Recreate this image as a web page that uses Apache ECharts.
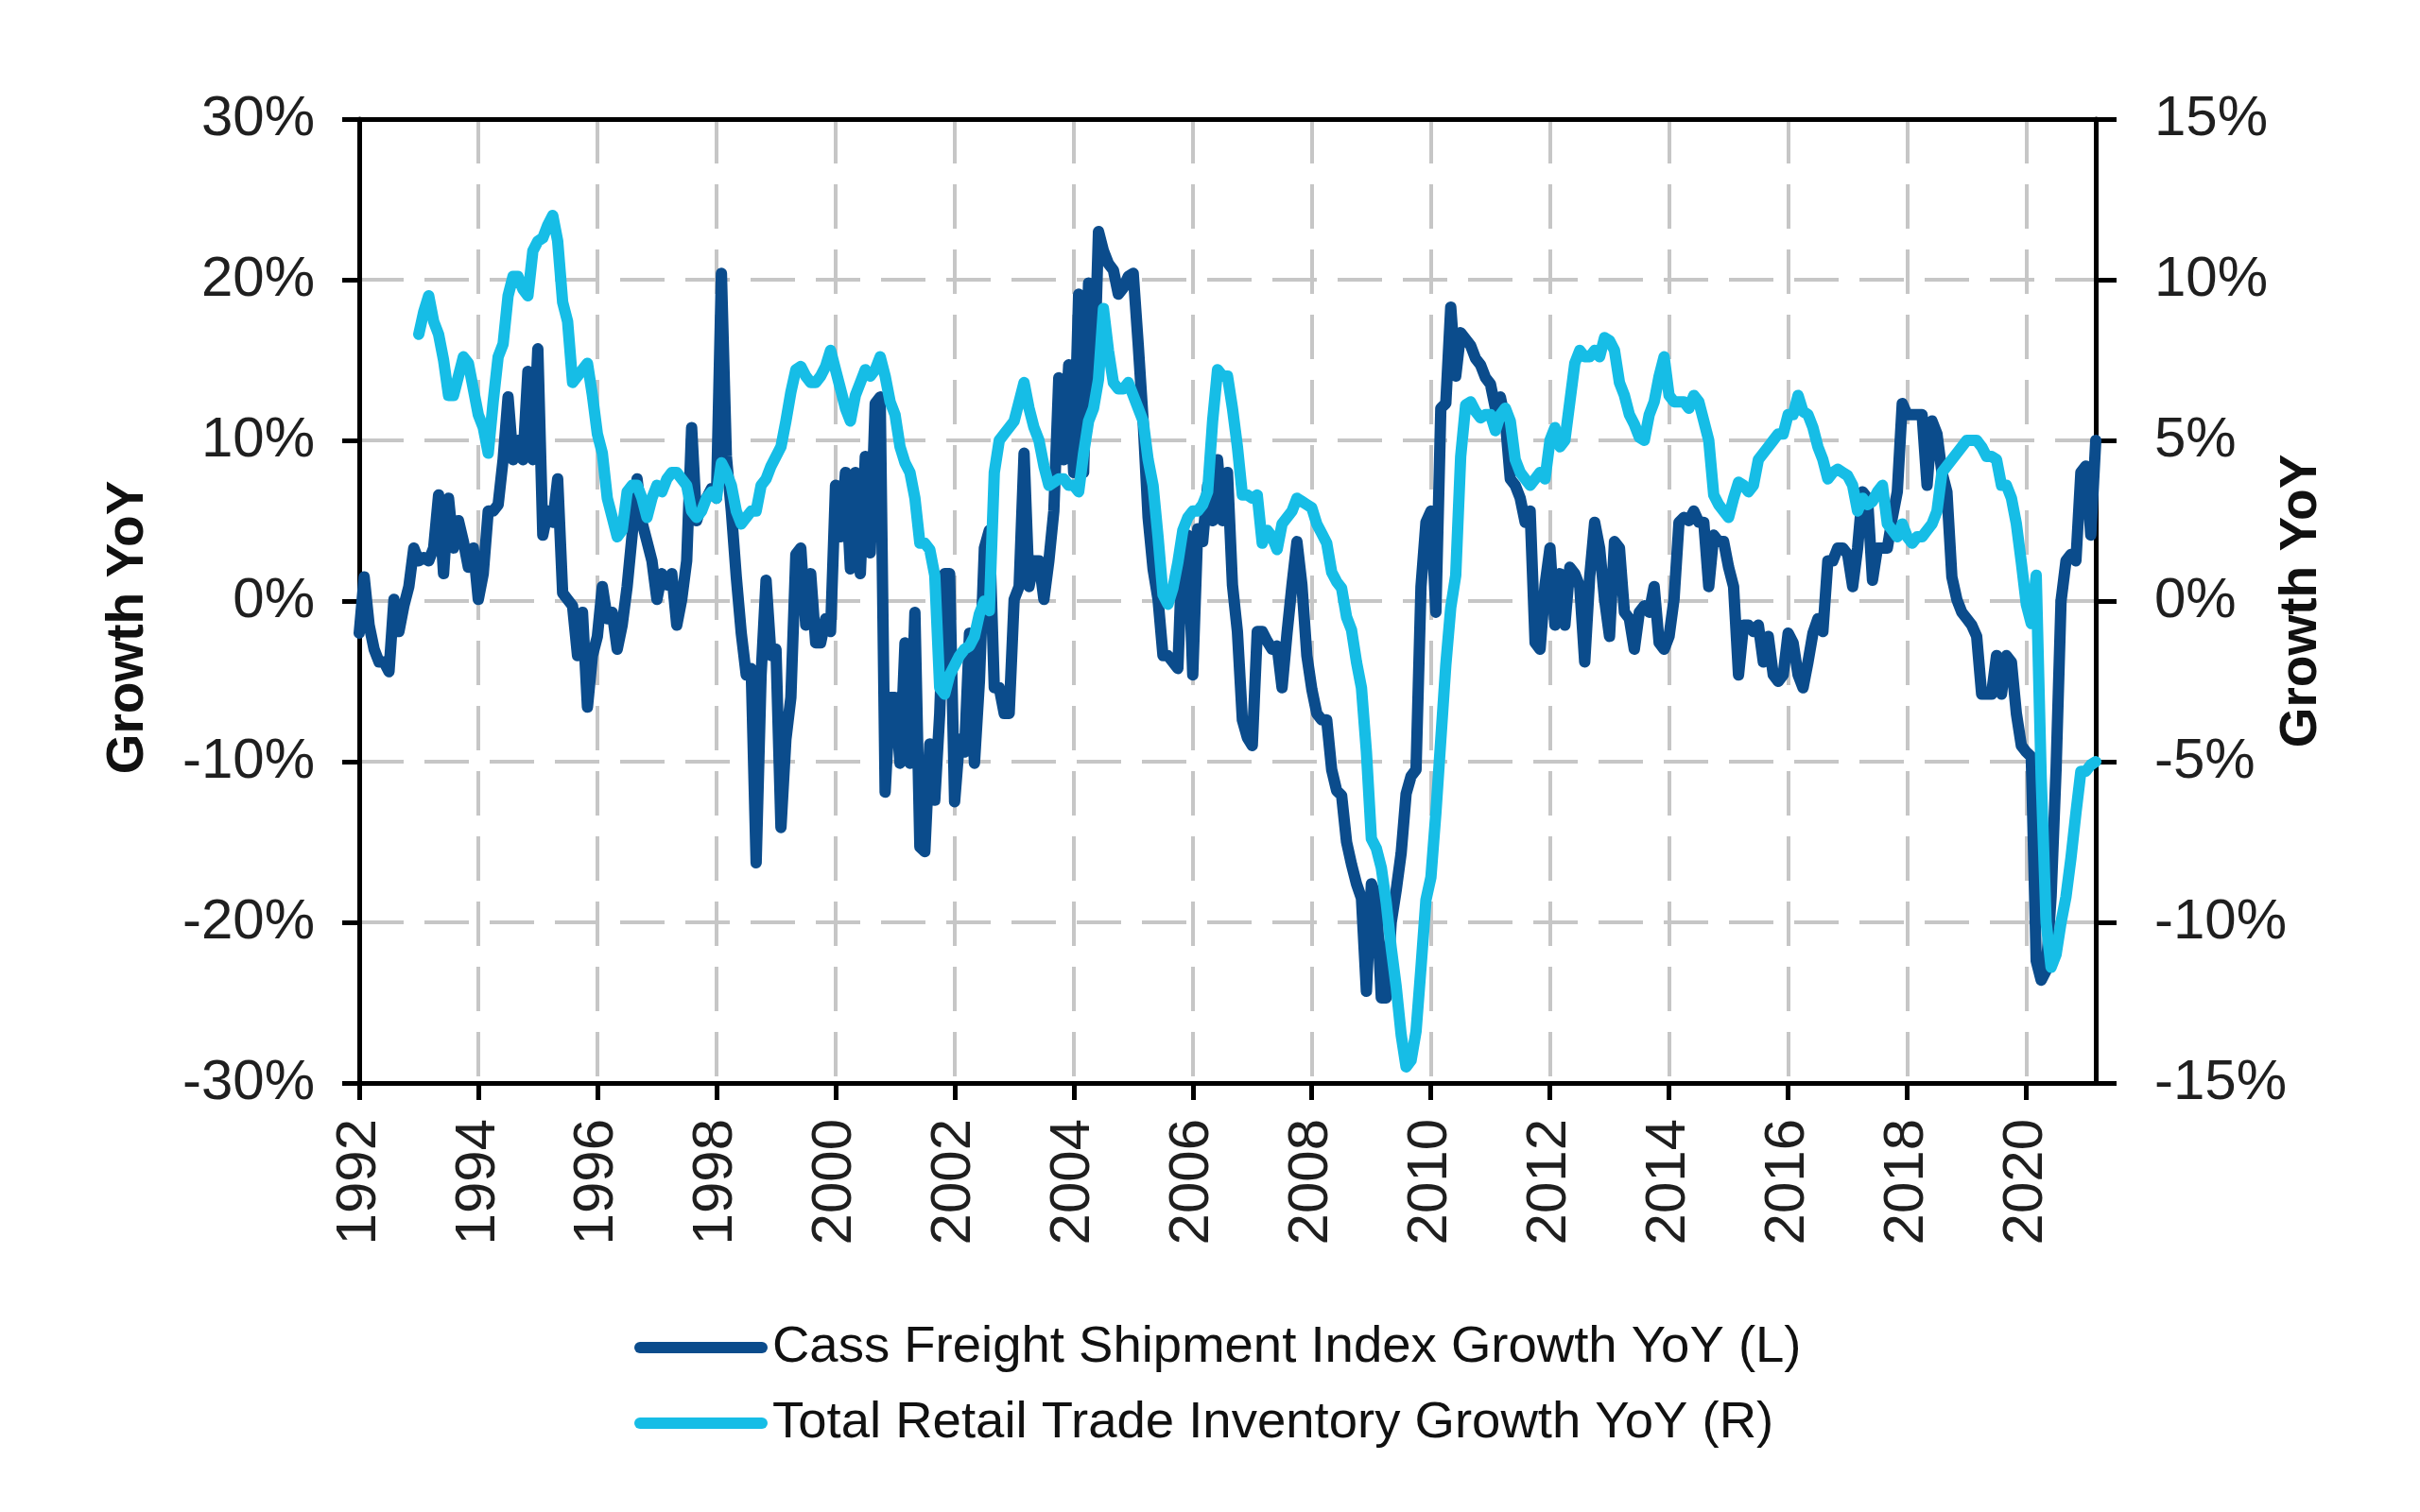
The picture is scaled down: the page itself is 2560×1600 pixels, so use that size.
<!DOCTYPE html>
<html>
<head>
<meta charset="utf-8">
<script src="https://cdn.jsdelivr.net/npm/echarts@6/dist/echarts.min.js"></script>
<style>
  html, body { margin: 0; padding: 0; background: #ffffff; }
  #chart { width: 2560px; height: 1600px; }
</style>
</head>
<body>
<div id="chart"></div>
<script>
// Monthly data, Jan 1992 .. Mar 2021 (YoY growth, %)
const startYear = 1992;
const seriesNames = [
  'Cass Freight Shipment Index Growth YoY (L)',
  'Total Retail Trade Inventory Growth YoY (R)'
];
const cassFreight = [
  -2.0, 1.5, -1.5, -3.0, -3.8, -3.8, -4.4, 0.1, -1.9, -0.3, 0.9, 3.3,
  2.5, 2.7, 2.5, 3.3, 6.6, 1.7, 6.4, 3.3, 5.0, 3.7, 2.1, 3.3,
  0.1, 1.7, 5.6, 5.6, 6.0, 8.8, 12.7, 8.8, 10.0, 8.8, 14.3, 8.8,
  15.7, 4.1, 5.6, 4.9, 7.6, 0.5, 0.1, -0.3, -3.4, -0.7, -6.6, -3.4,
  -2.2, 0.9, -1.1, -0.7, -3.0, -1.5, 0.9, 4.1, 7.6, 4.9, 3.7, 2.5,
  0.1, 1.7, 1.0, 1.7, -1.5, 0.1, 2.5, 10.8, 5.0, 6.0, 6.4, 7.0,
  6.4, 20.4, 9.0, 5.6, 1.5, -2.0, -4.6, -4.2, -16.3, -4.6, 1.3, -3.4,
  -3.0, -14.1, -8.6, -6.0, 2.9, 3.3, -1.5, 1.7, -2.6, -2.6, -1.1, -1.9,
  7.2, 4.0, 8.0, 2.0, 8.0, 1.7, 9.0, 3.0, 12.3, 12.7, -11.9, -6.0,
  -6.0, -10.1, -2.6, -10.1, -0.7, -15.3, -15.6, -8.9, -12.4, -7.0, 1.7, 1.7,
  -12.5, -8.6, -9.4, -2.0, -10.1, -5.0, 3.3, 4.4, -5.4, -5.4, -7.0, -7.0,
  0.1, 0.9, 9.2, 0.9, 2.5, 2.5, 0.1, 2.5, 5.6, 13.9, 8.8, 14.7,
  8.0, 19.1, 8.0, 19.8, 12.7, 23.0, 21.8, 21.0, 20.6, 19.1, 19.5, 20.2,
  20.4, 16.0, 11.2, 5.2, 2.0, 0.1, -3.4, -3.4, -3.8, -4.2, 4.1, 4.1,
  -4.6, 4.5, 3.7, 7.2, 5.0, 8.8, 5.0, 8.0, 1.0, -1.9, -7.4, -8.5,
  -9.0, -1.9, -1.9, -2.5, -3.0, -2.8, -5.4, -2.0, 1.0, 3.7, 1.0, -3.4,
  -5.5, -7.0, -7.4, -7.4, -10.5, -11.8, -12.1, -15.0, -16.4, -17.6, -18.5, -24.3,
  -17.6, -18.4, -24.7, -24.7, -20.0, -18.0, -15.7, -12.0, -10.9, -10.5, 0.9, 4.9,
  5.6, -0.7, 12.0, 12.3, 18.3, 14.0, 16.7, 16.3, 15.9, 15.1, 14.7, 13.9,
  13.5, 12.0, 12.7, 11.2, 7.6, 7.2, 6.4, 4.9, 5.6, -2.6, -3.0, 1.0,
  3.3, -1.5, 1.7, -1.5, 2.1, 1.7, 0.9, -3.8, 1.5, 4.9, 3.3, 0.1,
  -2.2, 3.7, 3.3, -0.7, -1.1, -3.0, -0.7, -0.3, -0.7, 0.9, -2.6, -3.0,
  -2.2, 0.1, 4.9, 5.2, 5.0, 5.6, 4.9, 4.9, 0.9, 4.1, 3.7, 3.7,
  2.1, 0.9, -4.6, -1.5, -1.5, -1.9, -1.5, -3.8, -2.2, -4.6, -5.0, -4.6,
  -2.0, -2.6, -4.6, -5.4, -3.8, -2.0, -1.1, -1.9, 2.5, 2.5, 3.3, 3.3,
  2.9, 0.9, 3.3, 6.8, 6.4, 1.3, 3.3, 3.3, 3.3, 5.2, 6.8, 12.3,
  11.6, 11.6, 11.6, 11.6, 7.2, 11.2, 10.4, 8.0, 6.8, 1.5, 0.1, -0.7,
  -1.1, -1.5, -2.2, -5.8, -5.8, -5.8, -3.4, -5.8, -3.4, -3.8, -7.0, -9.0,
  -9.4, -9.7, -22.4, -23.6, -23.0, -18.4, -10.5, 0.0, 2.5, 2.9, 2.5, 8.0,
  8.4, 4.1, 10.0
];
const retailInventory = [
  null, null, null, null, null, null, null, null, null, null, null, null,
  8.3, 9.0, 9.5, 8.7, 8.3, 7.5, 6.4, 6.4, 7.0, 7.6, 7.4, 6.6,
  5.8, 5.4, 4.6, 6.2, 7.6, 8.0, 9.5, 10.1, 10.1, 9.7, 9.5, 10.9,
  11.2, 11.3, 11.7, 12.0, 11.2, 9.3, 8.7, 6.8, 7.0, 7.2, 7.4, 6.4,
  5.2, 4.6, 3.2, 2.6, 2.0, 2.2, 3.4, 3.6, 3.6, 3.2, 2.6, 3.2,
  3.6, 3.4, 3.8, 4.0, 4.0, 3.8, 3.6, 2.8, 2.6, 2.8, 3.2, 3.4,
  3.2, 4.3, 4.0, 3.6, 2.8, 2.4, 2.6, 2.8, 2.8, 3.6, 3.8, 4.2,
  4.5, 4.8, 5.6, 6.5, 7.2, 7.3, 7.0, 6.8, 6.8, 7.0, 7.3, 7.8,
  7.2, 6.6, 6.0, 5.6, 6.4, 6.8, 7.2, 7.0, 7.2, 7.6, 7.0, 6.2,
  5.8, 4.8, 4.3, 4.0, 3.2, 1.8, 1.8, 1.6, 0.8, -2.7, -2.9, -2.3,
  -2.0, -1.7, -1.5, -1.4, -1.1, -0.4, 0.0, -0.3, 4.0, 5.0, 5.2, 5.4,
  5.6, 6.2, 6.8, 6.0, 5.4, 5.0, 4.2, 3.6, 3.7, 3.8, 3.8, 3.6,
  3.6, 3.4, 4.6, 5.6, 6.0, 6.9, 9.1, 7.8, 6.8, 6.6, 6.6, 6.8,
  6.4, 6.0, 5.6, 4.4, 3.6, 2.0, 0.2, -0.1, 0.4, 1.2, 2.2, 2.6,
  2.8, 2.8, 3.0, 3.4, 5.6, 7.2, 7.0, 7.0, 6.0, 4.8, 3.3, 3.3,
  3.2, 3.3, 1.8, 2.2, 2.0, 1.6, 2.4, 2.6, 2.8, 3.2, 3.1, 3.0,
  2.9, 2.4, 2.1, 1.8, 0.9, 0.6, 0.4, -0.5, -0.9, -1.9, -2.7, -4.7,
  -7.4, -7.7, -8.3, -9.4, -10.8, -12.0, -13.5, -14.5, -14.3, -13.4, -11.4, -9.3,
  -8.6, -6.6, -4.3, -2.0, -0.2, 0.8, 4.5, 6.1, 6.2, 5.9, 5.7, 5.8,
  5.8, 5.3, 5.8, 6.0, 5.6, 4.4, 4.0, 3.8, 3.6, 3.8, 4.0, 3.8,
  5.0, 5.4, 4.8, 5.0, 6.2, 7.4, 7.8, 7.6, 7.6, 7.8, 7.6, 8.2,
  8.1, 7.8, 6.8, 6.4, 5.8, 5.5, 5.1, 5.0, 5.8, 6.2, 7.0, 7.6,
  6.4, 6.2, 6.2, 6.2, 6.0, 6.4, 6.2, 5.6, 5.0, 3.3, 3.0, 2.8,
  2.6, 3.2, 3.7, 3.6, 3.4, 3.6, 4.4, 4.6, 4.8, 5.0, 5.2, 5.2,
  5.8, 5.8, 6.4, 5.9, 5.8, 5.4, 4.8, 4.4, 3.8, 4.0, 4.1, 4.0,
  3.9, 3.6, 2.8, 3.2, 3.0, 3.1, 3.4, 3.6, 2.4, 2.2, 2.0, 2.4,
  2.0, 1.8, 2.0, 2.0, 2.2, 2.4, 2.8, 4.0, 4.2, 4.4, 4.6, 4.8,
  5.0, 5.0, 5.0, 4.8, 4.5, 4.5, 4.4, 3.6, 3.6, 3.2, 2.4, 1.2,
  -0.1, -0.7, 0.8, -5.5, -10.0, -11.4, -11.0, -10.0, -9.2, -8.0, -6.6, -5.3,
  -5.3, -5.1, -5.0
];
const leftAxisRange = [-30, 30, 10];
const rightAxisRange = [-15, 15, 5];
const yearTickStep = 2;
const axisTitle = 'Growth YoY';

const toPoints = arr => arr.map((v, i) => [startYear + i / 12, v]);
const lastX = startYear + (cassFreight.length - 1) / 12;

const baseFont = "'Liberation Sans', Arial, sans-serif";
const tickFont = { fontFamily: baseFont, fontSize: 60, color: '#1f1f1f' };
const gridDash = { show: true, showMinLine: false, showMaxLine: false, lineStyle: { color: '#c6c6c6', width: 4, type: [47, 22] } };
const blackLine = { show: true, onZero: false, lineStyle: { color: '#000', width: 5 } };
const stadium = 'path://M6,0 L135,0 A6,6 0 0 1 135,12 L6,12 A6,6 0 0 1 6,0 Z';

const chart = echarts.init(document.getElementById('chart'), null, { renderer: 'canvas' });
chart.setOption({
  animation: false,
  backgroundColor: '#ffffff',
  grid: { left: 380, right: 343, top: 126, bottom: 454, show: false },
  legend: {
    data: seriesNames,
    orient: 'vertical',
    left: 666,
    top: 1388,
    itemWidth: 141,
    itemHeight: 12,
    itemGap: 14,
    icon: stadium,
    textStyle: { fontFamily: baseFont, fontSize: 54.5, color: '#111', lineHeight: 66 }
  },
  xAxis: [
    {
      type: 'value',
      min: startYear,
      max: lastX,
      interval: yearTickStep,
      axisLine: blackLine,
      axisTick: { show: true, length: 18, lineStyle: { color: '#000', width: 5 } },
      axisLabel: Object.assign({ rotate: 90, margin: 38, showMaxLabel: false, formatter: v => String(Math.round(v)) }, tickFont),
      splitLine: gridDash
    },
    {
      type: 'value', position: 'top',
      min: startYear, max: lastX, interval: yearTickStep,
      z: 5,
      axisLine: blackLine,
      axisTick: { show: false },
      axisLabel: { show: false },
      splitLine: { show: false }
    }
  ],
  yAxis: [
    {
      type: 'value', position: 'left',
      min: leftAxisRange[0], max: leftAxisRange[1], interval: leftAxisRange[2],
      axisLine: blackLine,
      axisTick: { show: true, length: 18, lineStyle: { color: '#000', width: 5 } },
      axisLabel: Object.assign({ margin: 47, formatter: '{value}%' }, tickFont),
      splitLine: gridDash,
      name: axisTitle, nameLocation: 'middle', nameGap: 217, nameMoveOverlap: false,
      nameTextStyle: { fontFamily: baseFont, fontSize: 55, fontWeight: 'bold', color: '#111', padding: [0, 56, 0, 0] }
    },
    {
      type: 'value', position: 'right',
      min: rightAxisRange[0], max: rightAxisRange[1], interval: rightAxisRange[2],
      axisLine: blackLine,
      axisTick: { show: true, length: 22, lineStyle: { color: '#000', width: 5 } },
      axisLabel: Object.assign({ margin: 62, formatter: '{value}%' }, tickFont),
      splitLine: { show: false },
      name: axisTitle, nameLocation: 'middle', nameGap: 190, nameRotate: 90, nameMoveOverlap: false,
      nameTextStyle: { fontFamily: baseFont, fontSize: 55, fontWeight: 'bold', color: '#111' }
    }
  ],
  series: [
    {
      name: seriesNames[0], type: 'line', yAxisIndex: 0,
      data: toPoints(cassFreight), showSymbol: false, symbol: 'none',
      lineStyle: { color: '#0b4c8c', width: 12, join: 'round', cap: 'round' },
      itemStyle: { color: '#0b4c8c' }, z: 2
    },
    {
      name: seriesNames[1], type: 'line', yAxisIndex: 1,
      data: toPoints(retailInventory), showSymbol: false, symbol: 'none', connectNulls: false,
      lineStyle: { color: '#16bde6', width: 12, join: 'round', cap: 'round' },
      itemStyle: { color: '#16bde6' }, z: 3
    }
  ]
});
</script>
</body>
</html>
